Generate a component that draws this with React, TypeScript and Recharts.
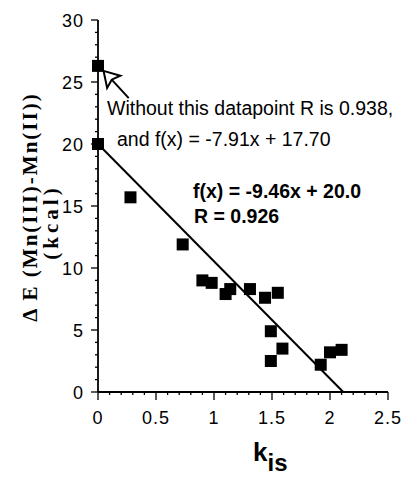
import React from "react";
import {
  ScatterChart,
  Scatter,
  XAxis,
  YAxis,
  ReferenceLine,
} from "recharts";

// k_is values and energy differences (kcal)
const kis = [0, 0, 0.28, 0.73, 0.9, 0.98, 1.1, 1.14, 1.31, 1.44, 1.55, 1.49, 1.49, 1.59, 1.92, 2.0, 2.1];
const deltaE = [26.3, 20.0, 15.7, 11.9, 9.0, 8.8, 7.9, 8.3, 8.3, 7.6, 8.0, 4.9, 2.5, 3.5, 2.2, 3.2, 3.4];

// linear fit f(x) = -9.46x + 20.0
const fitSlope = -9.46;
const fitIntercept = 20.0;

// arrow pointing at the outlier: tail -> tip
const arrowFrom = { x: 0.265, y: 23.7 };
const arrowTo = { x: 0.048, y: 25.9 };

const xTicks = Array.from({ length: 26 }, (_, i) => i / 10);
const yTicks = Array.from({ length: 31 }, (_, i) => i);

const data = kis.map((k, i) => ({ k, e: deltaE[i] }));

const sans = "'Liberation Sans', Arial, sans-serif";
const serif = "'Liberation Serif', 'Times New Roman', serif";

const XTick = (props: any) => {
  const { x, y, payload } = props;
  const v = payload.value;
  const major = Math.abs(v * 2 - Math.round(v * 2)) < 1e-6;
  return (
    <g>
      <line x1={x} y1={y} x2={x} y2={y + (major ? 8 : 3)} stroke="#000" strokeWidth={1.3} />
      {major && (
        <text x={x} y={y + 32} textAnchor="middle" fontSize={18} fontFamily={sans} letterSpacing={1} fill="#000">
          {String(Math.round(v * 10) / 10)}
        </text>
      )}
    </g>
  );
};

const YTick = (props: any) => {
  const { x, y, payload } = props;
  const v = payload.value;
  const major = v % 5 === 0;
  return (
    <g>
      <line x1={x} y1={y} x2={x - (major ? 7 : 3)} y2={y} stroke="#000" strokeWidth={1.3} />
      {major && (
        <text x={x - 14} y={y + 6.5} textAnchor="end" fontSize={18} fontFamily={sans} letterSpacing={1} fill="#000">
          {v}
        </text>
      )}
    </g>
  );
};

const Square = (p: any) => (
  <rect x={p.cx - 6} y={p.cy - 6} width={12} height={12} fill="#000" />
);

const Arrow = (p: any) => {
  const { x1, y1, x2, y2 } = p;
  const dx = x2 - x1;
  const dy = y2 - y1;
  const len = Math.sqrt(dx * dx + dy * dy) || 1;
  const ux = dx / len;
  const uy = dy / len;
  const headLen = 15;
  const headW = 9;
  const bx = x2 - ux * headLen;
  const by = y2 - uy * headLen;
  const px = -uy;
  const py = ux;
  const pts = [
    [x2, y2],
    [bx + px * headW, by + py * headW],
    [bx + ux * 3, by + uy * 3],
    [bx - px * headW, by - py * headW],
  ]
    .map((q) => q.join(","))
    .join(" ");
  return (
    <g>
      <line x1={x1} y1={y1} x2={bx + ux * 3} y2={by + uy * 3} stroke="#000" strokeWidth={2} />
      <polygon points={pts} fill="#fff" stroke="#000" strokeWidth={2} strokeLinejoin="miter" />
    </g>
  );
};

export default function App() {
  const fitEndX = -fitIntercept / fitSlope;
  return (
    <div style={{ position: "absolute", left: 0, top: 0, width: 404, height: 479, background: "#fff" }}>
      <ScatterChart width={404} height={479} margin={{ top: 20, right: 16, bottom: 57, left: 38 }}>
        <XAxis
          type="number"
          dataKey="k"
          domain={[0, 2.5]}
          ticks={xTicks}
          interval={0}
          tick={<XTick />}
          tickLine={false}
          tickSize={0}
          tickMargin={0}
          height={30}
          axisLine={{ stroke: "#000", strokeWidth: 1.8 }}
        />
        <YAxis
          type="number"
          dataKey="e"
          domain={[0, 30]}
          ticks={yTicks}
          interval={0}
          tick={<YTick />}
          tickLine={false}
          tickSize={0}
          tickMargin={0}
          width={60}
          axisLine={{ stroke: "#000", strokeWidth: 1.8 }}
        />
        <ReferenceLine
          segment={[
            { x: 0, y: fitIntercept },
            { x: fitEndX, y: 0 },
          ]}
          stroke="#000"
          strokeWidth={2}
          ifOverflow="visible"
        />
        <ReferenceLine
          segment={[arrowFrom, arrowTo]}
          shape={(p: any) => <Arrow {...p} />}
          ifOverflow="visible"
        />
        <Scatter data={data} shape={<Square />} isAnimationActive={false} />
      </ScatterChart>
      <svg
        width={404}
        height={479}
        style={{ position: "absolute", left: 0, top: 0, pointerEvents: "none" }}
      >
        <text x={107} y={115} fontSize={19.5} fontFamily={sans} fill="#000">
          Without this datapoint R is 0.938,
        </text>
        <text x={117} y={146} fontSize={19.5} fontFamily={sans} fill="#000">
          and f(x) = -7.91x + 17.70
        </text>
        <text x={193} y={198} fontSize={19.5} fontWeight="bold" fontFamily={sans} fill="#000">
          f(x) = -9.46x + 20.0
        </text>
        <text x={194} y={223} fontSize={19.5} fontWeight="bold" fontFamily={sans} fill="#000">
          R = 0.926
        </text>
        <text
          transform="rotate(-90)"
          x={-207}
          y={37}
          textAnchor="middle"
          fontSize={21}
          fontWeight="bold"
          fontFamily={serif}
          letterSpacing={2}
          fill="#000"
        >
          Δ E (Mn(III)-Mn(II))
        </text>
        <text
          transform="rotate(-90)"
          x={-222}
          y={58}
          textAnchor="middle"
          fontSize={21}
          fontWeight="bold"
          fontFamily={serif}
          letterSpacing={4}
          fill="#000"
        >
          (kcal)
        </text>
        <text x={253} y={461} fontSize={26} fontWeight="bold" fontFamily={sans} fill="#000">
          k
          <tspan dy={10} fontSize={24}>
            is
          </tspan>
        </text>
      </svg>
    </div>
  );
}
